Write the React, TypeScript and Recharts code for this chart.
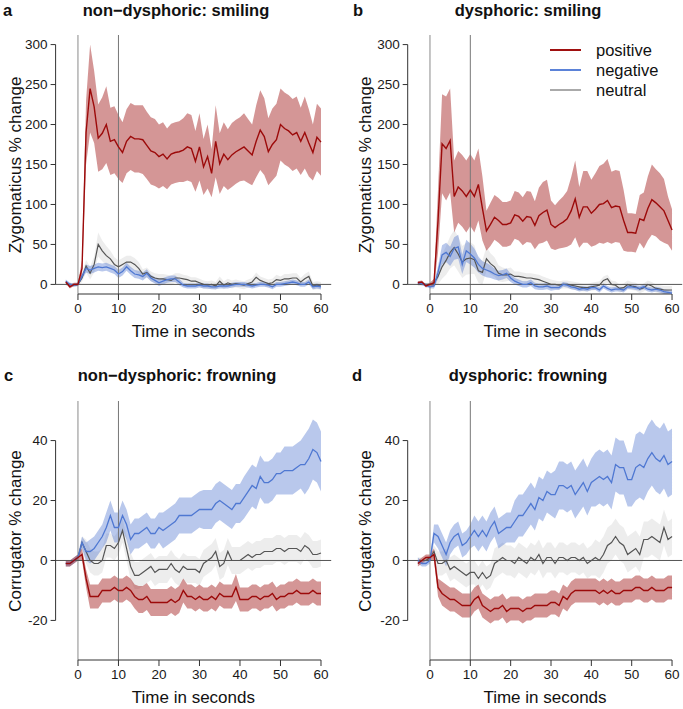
import React from 'react';
import { ComposedChart, Area, Line, XAxis, YAxis, ReferenceLine } from 'recharts';

// time in seconds
const TIME = [-3, -2, -1, 0, 1, 2, 3, 4, 5, 6, 7, 8, 9, 10, 11, 12, 13, 14, 15, 16, 17, 18, 19, 20, 21, 22, 23, 24, 25, 26, 27, 28, 29, 30, 31, 32, 33, 34, 35, 36, 37, 38, 39, 40, 41, 42, 43, 44, 45, 46, 47, 48, 49, 50, 51, 52, 53, 54, 55, 56, 57, 58, 59, 60];
const X_TICKS = [0, 10, 20, 30, 40, 50, 60];
const Y_TICKS_TOP = [0, 50, 100, 150, 200, 250, 300];
const Y_TICKS_BOTTOM = [-20, 0, 20, 40];

// Panel a: non-dysphoric smiling (zygomaticus)
const A_POS = [3, -3, 0, 0, 20, 190, 245, 222, 183, 189, 200, 179, 181, 172, 165, 179, 185, 182, 182, 181, 174, 167, 165, 160, 163, 157, 163, 165, 166, 168, 172, 170, 154, 172, 147, 160, 139, 179, 151, 163, 156, 162, 166, 169, 172, 167, 162, 179, 193, 185, 166, 175, 181, 200, 195, 192, 187, 190, 179, 190, 177, 165, 184, 178];
const A_POS_SE = [2, 2, 2, 2, 10, 40, 55, 45, 42, 45, 48, 42, 42, 40, 38, 40, 42, 42, 42, 43, 42, 42, 42, 40, 40, 38, 38, 38, 38, 40, 42, 42, 38, 42, 35, 40, 30, 45, 38, 40, 38, 40, 40, 40, 42, 40, 38, 45, 50, 48, 42, 45, 45, 45, 45, 45, 45, 45, 42, 45, 42, 35, 42, 42];
const A_NEG = [4, 0, -1, 0, 10, 20, 18, 20, 22, 21, 22, 20, 18, 13, 16, 22, 17, 13, 12, 10, 14, 8, 5, 2, 4, 6, 7, 7, 3, -1, -2, -2, -2, -1, -2, -2, -3, -3, -2, -2, -2, -1, 0, 0, 0, -1, -2, -1, 0, 0, -1, -3, 0, 0, 1, 2, 3, 2, 0, 0, 3, -3, -2, -3];
const A_NEG_SE = [2, 2, 2, 2, 3, 5, 5, 5, 5, 5, 5, 5, 5, 5, 5, 5, 5, 5, 5, 5, 5, 4, 4, 4, 4, 4, 4, 4, 4, 3, 3, 3, 3, 3, 3, 3, 3, 3, 3, 3, 3, 3, 3, 3, 3, 3, 3, 3, 3, 3, 3, 3, 3, 3, 3, 3, 3, 3, 3, 3, 3, 3, 3, 3];
const A_NEU = [0, 0, -1, 0, 8, 23, 14, 25, 50, 42, 36, 32, 25, 22, 25, 28, 28, 25, 20, 13, 15, 10, 8, 7, 7, 6, 5, 8, 8, 7, 6, 4, 4, 2, 0, -1, 0, -2, 4, -1, 2, 0, 1, 0, -1, 1, 3, 9, 5, 3, 1, 2, 6, 5, 7, 7, 8, 8, 3, 7, 10, -2, -1, -2];
const A_NEU_SE = [2, 2, 2, 2, 5, 8, 8, 10, 15, 13, 12, 10, 9, 8, 8, 8, 8, 8, 8, 6, 6, 6, 6, 6, 6, 6, 6, 6, 6, 5, 5, 5, 5, 5, 5, 5, 5, 5, 6, 5, 5, 5, 5, 5, 5, 5, 5, 6, 5, 5, 5, 5, 6, 5, 6, 6, 6, 6, 5, 6, 6, 5, 5, 5];

// Panel b: dysphoric smiling (zygomaticus)
const B_POS = [2, 3, -2, 0, 2, 80, 176, 170, 180, 110, 122, 117, 110, 118, 110, 125, 95, 67, 75, 84, 80, 75, 75, 77, 87, 85, 79, 85, 84, 74, 86, 90, 93, 75, 71, 75, 78, 82, 92, 107, 84, 97, 97, 89, 94, 100, 101, 105, 96, 98, 97, 80, 65, 65, 64, 82, 80, 95, 106, 102, 97, 92, 80, 68];
const B_POS_SE = [2, 2, 2, 2, 5, 40, 62, 65, 65, 45, 45, 45, 45, 45, 45, 45, 40, 25, 27, 28, 28, 28, 28, 28, 30, 30, 30, 32, 32, 30, 35, 38, 38, 30, 28, 30, 32, 35, 42, 48, 38, 45, 45, 42, 45, 48, 50, 52, 45, 45, 45, 38, 24, 24, 24, 30, 35, 40, 44, 42, 42, 40, 30, 26];
const B_NEG = [2, 1, -1, -3, -2, 15, 37, 40, 35, 45, 47, 25, 42, 38, 33, 25, 20, 18, 16, 13, 11, 12, 14, 8, 4, 2, 0, 0, 2, -2, -3, -3, -2, -4, -4, -4, 0, -1, -3, -4, -6, -5, -6, -4, -4, -7, -2, -5, -7, -6, -6, -7, -3, -3, -4, -5, -3, -6, -7, -6, -7, -9, -10, -11];
const B_NEG_SE = [2, 2, 2, 2, 3, 8, 12, 12, 12, 14, 15, 12, 14, 13, 12, 10, 9, 9, 8, 7, 6, 6, 6, 5, 4, 4, 4, 4, 4, 4, 4, 4, 4, 4, 3, 3, 3, 3, 3, 3, 3, 3, 3, 3, 3, 3, 3, 3, 3, 3, 3, 3, 3, 3, 3, 3, 3, 3, 3, 3, 3, 3, 3, 3];
const B_NEU = [0, 0, 0, 0, 2, 10, 22, 30, 40, 46, 38, 28, 32, 33, 31, 17, 15, 32, 26, 22, 14, 12, 12, 13, 10, 10, 9, 8, 8, 7, 6, 4, 2, 0, 0, -1, 0, 0, -1, -2, -3, -4, -4, -3, -2, -1, 5, 7, 0, -1, -5, -4, 0, -2, -3, -6, -4, 0, -2, -5, -6, -7, -7, -7];
const B_NEU_SE = [2, 2, 2, 2, 4, 10, 15, 18, 20, 22, 22, 20, 20, 20, 18, 15, 15, 15, 13, 12, 10, 9, 8, 8, 6, 6, 6, 6, 6, 6, 6, 6, 6, 6, 5, 5, 5, 5, 5, 5, 5, 5, 5, 5, 5, 5, 5, 5, 5, 5, 5, 5, 5, 5, 5, 5, 5, 5, 5, 5, 5, 5, 5, 5];

// Panel c: non-dysphoric frowning (corrugator)
const C_POS = [-1, -1, 0, 1, 2, -6, -12, -12, -12, -10, -10, -10, -9, -10, -10, -9, -10, -12, -13, -13, -12, -14, -14, -14, -14, -14, -13, -14, -13, -10, -12, -12, -13, -12, -13, -13, -12, -13, -11, -12, -12, -12, -9, -13, -13, -13, -12, -12, -13, -12, -12, -11, -13, -12, -12, -11, -11, -10, -11, -11, -11, -10, -11, -11];
const C_POS_SE = [1, 1, 1, 1, 2, 3, 4, 4, 4, 4, 4, 4, 4, 4, 4, 4, 4, 4, 4.5, 4.5, 4.5, 4.5, 4.5, 4.5, 4.5, 4.5, 4.5, 4.5, 4.5, 4, 4, 4, 4, 4, 4, 4, 4, 4, 4, 4, 4, 4, 4.5, 4, 4, 4, 4, 4, 4, 4, 4, 4, 4, 4, 4, 4, 4, 4, 4, 4, 4, 4, 4, 4];
const C_NEG = [-1, -1, 0, 1, 6, 3, 3, 4, 6, 8, 11, 15, 11, 11, 15, 12, 7, 9, 9, 10, 11, 9, 9, 11, 10, 11, 12, 13, 15, 15, 15, 15, 16, 17, 17, 17, 17, 19, 20, 19, 18, 17, 19, 19, 21, 23, 25, 24, 28, 26, 26, 27, 29, 29, 30, 30, 30, 31, 32, 32, 34, 37, 36, 33];
const C_NEG_SE = [1, 1, 1, 1, 2, 3, 4, 4, 4, 4, 5, 5, 5, 5, 5, 5, 5, 5, 5, 5, 5, 5, 5, 5, 6, 6, 6, 6, 6, 6, 6, 6, 6, 6, 6.5, 6.5, 6.5, 6.5, 6.5, 6.5, 6.5, 6.5, 6.5, 6.5, 7, 7, 7, 7, 7, 7, 7, 7, 7, 7, 8, 8, 8, 8, 8, 10, 10, 10, 10, 10];
const C_NEU = [-1, -1, 0, 1, 6, 3, 0, -1, -1, 0, 5, 5, 4, 6, 10, 4, -2, -5, -5, -4, -3, -2, -4, -3, -3, -3, -1, -3, -4, -2, -3, -3, -3, -4, -1, 0, 1, 3, -2, -1, 3, 0, 0, 0, 1, 2, 1, 2, 2, 3, 3, 3, 4, 4, 3, 4, 4, 4, 3, 5, 4, 2, 2, 2.5];
const C_NEU_SE = [1, 1, 1, 1, 2, 4, 4, 4, 4, 4, 4, 4, 4, 4, 4, 4, 4.5, 4.5, 4.5, 4.5, 4.5, 4.5, 4.5, 4.5, 4.5, 4.5, 4.5, 4.5, 4.5, 4.5, 4.5, 4.5, 4.5, 4.5, 4.5, 4.5, 4.5, 4.5, 4.5, 4.5, 4.5, 4.5, 4.5, 4.5, 4.5, 4.5, 4.5, 4.5, 4.5, 4.5, 4.5, 4.5, 4.5, 4.5, 4.5, 4.5, 4.5, 4.5, 4.5, 4.5, 4.5, 4.5, 4.5, 4.5];

// Panel d: dysphoric frowning (corrugator)
const D_POS = [-1, 0, 1, 1, 2, -9, -11, -12, -13, -13, -14, -15, -15, -15, -13, -12, -15, -16, -17, -16, -16, -15, -17, -16, -16, -16, -17, -16, -16, -15, -15, -15, -15, -14, -14, -15, -12, -13, -11, -10, -10, -10, -10, -10, -10, -11, -10, -11, -10, -11, -11, -10, -10, -10, -9, -9, -10, -10, -9, -10, -10, -10, -9, -9];
const D_POS_SE = [1, 1, 1, 1, 2, 3, 4, 4, 4, 4, 4, 4, 4, 4, 4, 4, 4, 4, 4, 4, 4, 4, 4, 4, 4, 4, 4, 4, 4, 4, 4, 4, 4, 4, 4, 4, 4, 4, 4, 4, 4, 4, 4, 4, 4, 4, 4, 4, 4, 4, 4, 4, 4, 4, 4, 4, 4, 4, 4, 4, 4, 4, 4, 4];
const D_NEG = [0, -1, -1, 0, 9, 8, 5, 2, 6, 8, 9, 5, 6, 8, 10, 8, 10, 8, 11, 13, 9, 10, 11, 11, 13, 15, 15, 17, 19, 17, 21, 20, 23, 22, 22, 25, 25, 24, 25, 22, 24, 26, 23, 26, 27, 28, 27, 28, 26, 32, 31, 31, 27, 27, 31, 32, 31, 34, 36, 34, 33, 35, 32, 33];
const D_NEG_SE = [1, 1, 1, 1, 3, 4, 4, 4, 4, 4, 4, 4, 4, 4, 5, 5, 5, 5, 5, 5, 5, 5, 5, 5, 7, 7, 7, 7, 7, 7, 7, 7, 7, 7, 8, 8, 8, 8, 8, 8, 8, 8, 8, 8, 9, 9, 9, 9, 9, 9, 9, 9, 9, 9, 11, 11, 11, 11, 11, 11, 11, 11, 11, 11];
const D_NEU = [0, 0, 0, 1, 3, -1, -1, 0, -3, -2, -3, -4, -5, -4, -4, -6, -4, -6, -5, -1, 0, 1, 0, 0, -1, 1, 0, -1, 1, 0, 2, -1, 1, 1, -1, 1, 1, 0, 1, 1, 0, 1, -1, 0, 1, 0, 2, 5, 6, 8, 6, 5, 2, 3, 4, 2, 7, 7, 8, 7, 6, 11, 7, 8];
const D_NEU_SE = [1, 1, 1, 1, 2, 4, 4, 4, 4, 4, 4, 4, 4, 4, 4, 4, 4, 4, 4, 5, 5, 5, 5, 5, 5, 5, 5, 5, 5, 5, 5, 5, 5, 5, 5, 5, 5, 5, 5, 5, 5, 5, 5, 5, 6, 6, 6, 6, 6, 6, 6, 6, 6, 6, 6, 6, 6, 6, 6, 6, 6, 6, 6, 6];

const FONT = '"Liberation Sans", Arial, Helvetica, sans-serif';
const RED = '#9c0a0a';
const RED_BAND = 'rgba(170, 45, 45, 0.5)';
const BLUE = '#4f78d2';
const BLUE_BAND = 'rgba(70, 110, 205, 0.38)';
const GRAY = '#555555';
const GRAY_BAND = 'rgba(190, 190, 190, 0.28)';
const X_DOMAIN: [number, number] = [-5.52, 62.52];

function build(pos: number[], posSe: number[], neg: number[], negSe: number[], neu: number[], neuSe: number[]) {
  return TIME.map((t, i) => ({
    t,
    pos: pos[i],
    posBand: [pos[i] - posSe[i], pos[i] + posSe[i]],
    neg: neg[i],
    negBand: [neg[i] - negSe[i], neg[i] + negSe[i]],
    neu: neu[i],
    neuBand: [neu[i] - neuSe[i], neu[i] + neuSe[i]],
  }));
}

const DATA_A = build(A_POS, A_POS_SE, A_NEG, A_NEG_SE, A_NEU, A_NEU_SE);
const DATA_B = build(B_POS, B_POS_SE, B_NEG, B_NEG_SE, B_NEU, B_NEU_SE);
const DATA_C = build(C_POS, C_POS_SE, C_NEG, C_NEG_SE, C_NEU, C_NEU_SE);
const DATA_D = build(D_POS, D_POS_SE, D_NEG, D_NEG_SE, D_NEU, D_NEU_SE);

type PanelProps = {
  left: number;
  top: number;
  width: number;
  height: number;
  margin: { top: number; right: number; bottom: number; left: number };
  data: any[];
  yDomain: [number, number];
  yTicks: number[];
};

function Panel({ left, top, width, height, margin, data, yDomain, yTicks }: PanelProps) {
  const tickStyle = { fontSize: 13.5, fill: '#1a1a1a', fontFamily: FONT };
  const yLo = yTicks[0];
  const yHi = yTicks[yTicks.length - 1];
  return (
    <div style={{ position: 'absolute', left, top }}>
      <ComposedChart width={width} height={height} data={data} margin={margin}>
        <XAxis
          dataKey="t"
          type="number"
          domain={X_DOMAIN}
          ticks={X_TICKS}
          interval={0}
          allowDataOverflow
          axisLine={false}
          tickLine={{ stroke: '#333' }}
          tickSize={6}
          tickMargin={3}
          height={30}
          tick={tickStyle}
        />
        <YAxis
          type="number"
          domain={yDomain}
          ticks={yTicks}
          interval={0}
          allowDataOverflow
          axisLine={false}
          tickLine={{ stroke: '#333' }}
          tickSize={5}
          tickMargin={3}
          width={50}
          tick={tickStyle}
        />
        <Area dataKey="neuBand" stroke="none" fill={GRAY_BAND} fillOpacity={1} isAnimationActive={false} activeDot={false} />
        <Area dataKey="negBand" stroke="none" fill={BLUE_BAND} fillOpacity={1} isAnimationActive={false} activeDot={false} />
        <Area dataKey="posBand" stroke="none" fill={RED_BAND} fillOpacity={1} isAnimationActive={false} activeDot={false} />
        <ReferenceLine x={0} stroke="#8a8a8a" strokeWidth={1} />
        <ReferenceLine x={10} stroke="#777" strokeWidth={1} />
        <ReferenceLine y={0} stroke="#555" strokeWidth={1} />
        <ReferenceLine
          segment={[{ x: 0, y: yDomain[0] }, { x: 60, y: yDomain[0] }]}
          stroke="#333"
          ifOverflow="visible"
        />
        <ReferenceLine
          segment={[{ x: X_DOMAIN[0], y: yLo }, { x: X_DOMAIN[0], y: yHi }]}
          stroke="#333"
          ifOverflow="visible"
        />
        <Line dataKey="neu" stroke={GRAY} strokeWidth={1.2} dot={false} activeDot={false} isAnimationActive={false} />
        <Line dataKey="neg" stroke={BLUE} strokeWidth={1.3} dot={false} activeDot={false} isAnimationActive={false} />
        <Line dataKey="pos" stroke={RED} strokeWidth={1.4} dot={false} activeDot={false} isAnimationActive={false} />
      </ComposedChart>
    </div>
  );
}

function Txt({ x, y, size, bold, align = 'center', children }: any) {
  const tx = align === 'left' ? '0' : '-50%';
  return (
    <div
      style={{
        position: 'absolute',
        left: x,
        top: y,
        transform: `translate(${tx}, -50%)`,
        fontSize: size,
        fontWeight: bold ? 700 : 400,
        fontFamily: FONT,
        whiteSpace: 'nowrap',
        lineHeight: 1,
        color: '#111',
      }}
    >
      {children}
    </div>
  );
}

function RotTxt({ x, y, size, children }: any) {
  return (
    <div
      style={{
        position: 'absolute',
        left: x,
        top: y,
        transform: 'translate(-50%, -50%) rotate(-90deg)',
        fontSize: size,
        fontFamily: FONT,
        whiteSpace: 'nowrap',
        lineHeight: 1,
        color: '#111',
      }}
    >
      {children}
    </div>
  );
}

const LEGEND = [
  { label: 'positive', color: '#a01010' },
  { label: 'negative', color: '#5b82d8' },
  { label: 'neutral', color: '#aaaaaa' },
];

export default function App() {
  const topMargin = { top: 35, right: 9.8, bottom: 16, left: 5.6 };
  const topMarginB = { top: 35, right: 0.8, bottom: 16, left: 16.7 };
  const botMargin = { top: 61, right: 9.8, bottom: 19, left: 5.6 };
  const botMarginB = { top: 61, right: 0.8, bottom: 19, left: 16.7 };
  return (
    <div style={{ position: 'absolute', left: 0, top: 0, width: 683, height: 709, background: '#fff', overflow: 'hidden' }}>
      <Panel left={0} top={0} width={341} height={340} margin={topMargin} data={DATA_A} yDomain={[-12, 312]} yTicks={Y_TICKS_TOP} />
      <Panel left={341} top={0} width={342} height={340} margin={topMarginB} data={DATA_B} yDomain={[-12, 312]} yTicks={Y_TICKS_TOP} />
      <Panel left={0} top={340} width={341} height={369} margin={botMargin} data={DATA_C} yDomain={[-33.2, 53.2]} yTicks={Y_TICKS_BOTTOM} />
      <Panel left={341} top={340} width={342} height={369} margin={botMarginB} data={DATA_D} yDomain={[-33.2, 53.2]} yTicks={Y_TICKS_BOTTOM} />

      <Txt x={3} y={10} size={16.5} bold align="left">a</Txt>
      <Txt x={353} y={10} size={16.5} bold align="left">b</Txt>
      <Txt x={4} y={375} size={16.5} bold align="left">c</Txt>
      <Txt x={352} y={375} size={16.5} bold align="left">d</Txt>

      <Txt x={176} y={10} size={16.5} bold>non−dysphoric: smiling</Txt>
      <Txt x={528} y={10} size={16.5} bold>dysphoric: smiling</Txt>
      <Txt x={177} y={375} size={16.5} bold>non−dysphoric: frowning</Txt>
      <Txt x={528} y={375} size={16.5} bold>dysphoric: frowning</Txt>

      <RotTxt x={15} y={164.5} size={17}>Zygomaticus % change</RotTxt>
      <RotTxt x={365} y={164.5} size={17}>Zygomaticus % change</RotTxt>
      <RotTxt x={15} y={530.5} size={17}>Corrugator % change</RotTxt>
      <RotTxt x={365} y={530.5} size={17}>Corrugator % change</RotTxt>

      <Txt x={193.4} y={331} size={17}>Time in seconds</Txt>
      <Txt x={545} y={331} size={17}>Time in seconds</Txt>
      <Txt x={193.4} y={697} size={17}>Time in seconds</Txt>
      <Txt x={545} y={697} size={17}>Time in seconds</Txt>

      {LEGEND.map((item, i) => (
        <div key={item.label}>
          <div style={{ position: 'absolute', left: 550, top: 49 + i * 20, width: 31, height: 2, background: item.color }} />
          <Txt x={596} y={50 + i * 20} size={16.5} align="left">{item.label}</Txt>
        </div>
      ))}
    </div>
  );
}
